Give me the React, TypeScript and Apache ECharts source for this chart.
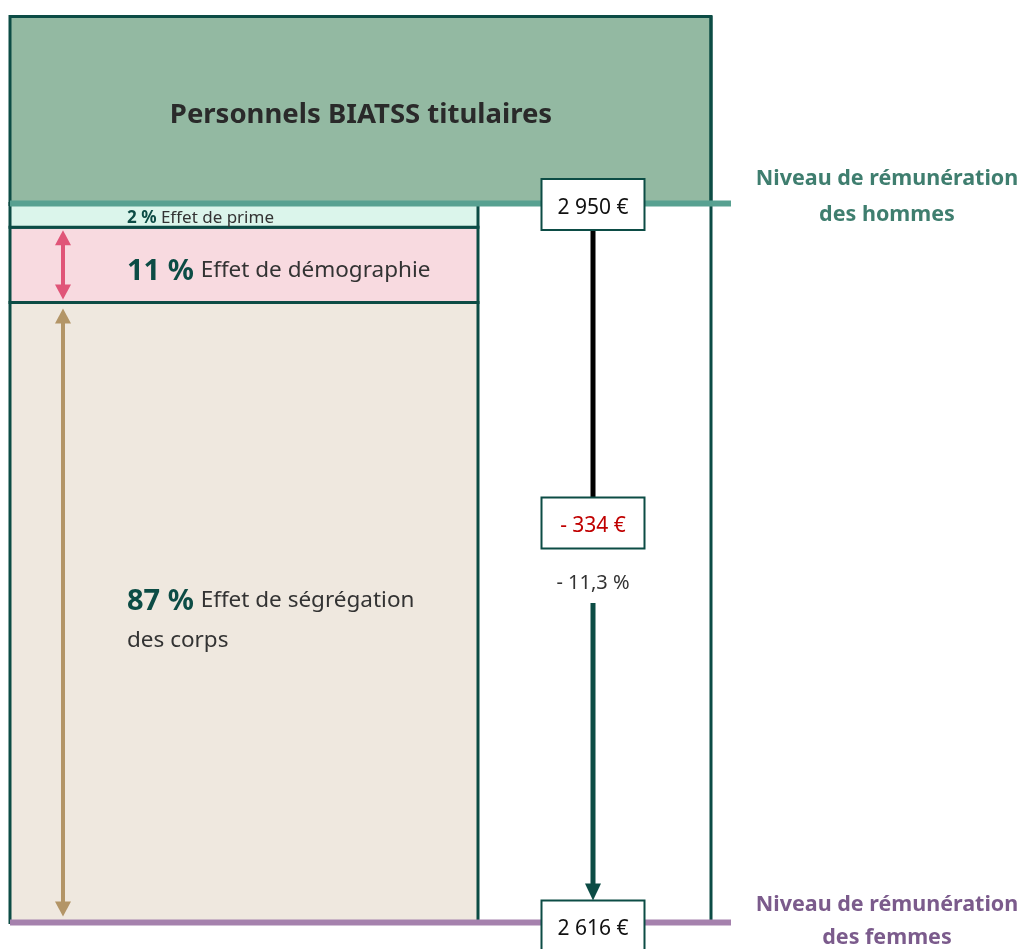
import { useEffect, useRef } from "react";
import * as echarts from "echarts";

// ---- data ----
const chartTitle = "Personnels BIATSS titulaires";
const menLevel = 2950; // €
const womenLevel = 2616; // €
const gapLabel = "- 334 €";
const gapPctLabel = "- 11,3 %";
const effectNames = ["Effet de ségrégation\ndes corps", "Effet de démographie", "Effet de prime"];
const effectShares = ["87 %", "11 %", "2 %"];
// height of each band in € as drawn (bottom → top)
const effectEuros = [288, 35, 11];
const menLabel = ["Niveau de rémunération", "des hommes"];
const womenLabel = ["Niveau de rémunération", "des femmes"];

const fmtEuro = (n: number) => String(n).replace(/\B(?=(\d{3})+(?!\d))/g, " ") + " €";

// ---- styles ----
const DARK = "#0c4c45";
const bandFill = ["#efe8df", "#f8dae0", "#dbf5eb"];
const arrowColor = ["#b39567", "#e05578", null];
const FONT = "Noto Sans";

export default function App() {
  const ref = useRef<HTMLDivElement>(null);
  useEffect(() => {
    if (!ref.current) return;
    const chart = echarts.init(ref.current, undefined, { renderer: "svg" });

    // cumulative bands
    const bands: number[][] = [];
    let acc = womenLevel;
    effectEuros.forEach((v, i) => {
      bands.push([acc, acc + v, i]);
      acc += v;
    });

    const COL_W = 468; // left column width
    const FRAME_W = 701;
    const LINE_W = 721;
    const BOX_CX = 583; // relative to grid left
    const BOX_W = 103;
    const BOX_H = 51;

    const dblArrow = (x: number, y1: number, y2: number, color: string) => {
      const hw = 8,
        hh = 15;
      return [
        { type: "line", shape: { x1: x, y1: y1 + hh - 1, x2: x, y2: y2 - hh + 1 }, style: { stroke: color, lineWidth: 4 } },
        { type: "polygon", shape: { points: [[x, y1], [x - hw, y1 + hh], [x + hw, y1 + hh]] }, style: { fill: color } },
        { type: "polygon", shape: { points: [[x, y2], [x - hw, y2 - hh], [x + hw, y2 - hh]] }, style: { fill: color } },
      ];
    };

    const valueBox = (cx: number, cy: number, text: string, color: string) => ({
      type: "group",
      children: [
        {
          type: "rect",
          shape: { x: cx - BOX_W / 2, y: cy - BOX_H / 2, width: BOX_W, height: BOX_H },
          style: { fill: "#ffffff", stroke: DARK, lineWidth: 2 },
        },
        {
          type: "text",
          style: { x: cx, y: cy + 1, text, fill: color, font: `21px "${FONT}"`, align: "center", verticalAlign: "middle" },
        },
      ],
    });

    chart.setOption({
      animation: false,
      grid: { left: 10, right: 1020 - 10 - LINE_W, top: 203.5, bottom: 26.5 },
      xAxis: { type: "value", min: 0, max: 1, show: false },
      yAxis: { type: "value", min: womenLevel, max: menLevel, show: false },
      graphic: [
        {
          type: "rect",
          shape: { x: 10, y: 16.5, width: FRAME_W, height: 188 },
          style: { fill: "#93b9a2", stroke: DARK, lineWidth: 3 },
        },
        {
          type: "text",
          style: {
            x: 361,
            y: 112,
            text: chartTitle,
            fill: "#2a2a2a",
            font: `bold 27.5px "${FONT}"`,
            align: "center",
            verticalAlign: "middle",
          },
        },
        ...menLabel.map((t, i) => ({
          type: "text",
          style: {
            x: 887,
            y: 176 + i * 36,
            text: t,
            fill: "#3f7e6f",
            font: `bold 21.5px "${FONT}"`,
            align: "center",
            verticalAlign: "middle",
          },
        })),
        ...womenLabel.map((t, i) => ({
          type: "text",
          style: {
            x: 887,
            y: 902 + i * 33,
            text: t,
            fill: "#7b5b8c",
            font: `bold 21.5px "${FONT}"`,
            align: "center",
            verticalAlign: "middle",
          },
        })),
      ],
      series: [
        {
          type: "custom",
          data: bands,
          renderItem: (params: any, api: any) => {
            const cs = params.coordSys;
            const lo = api.coord([0, api.value(0)]);
            const hi = api.coord([0, api.value(1)]);
            const i = api.value(2);
            const yTop = hi[1];
            const yBot = lo[1];
            const h = yBot - yTop;
            const cy = (yTop + yBot) / 2;
            const children: any[] = [
              {
                type: "rect",
                shape: { x: cs.x, y: yTop, width: COL_W, height: h },
                style: { fill: bandFill[i], stroke: DARK, lineWidth: 3 },
              },
            ];
            const small = i === 2;
            children.push({
              type: "text",
              style: {
                x: cs.x + 117,
                y: small ? cy + 1.5 : i === 0 ? cy + 6 : cy + 4,
                text: `{p|${effectShares[i]}}{s| }{n|${effectNames[i].split("\n").join("}\n{n|")}}`,
                verticalAlign: "middle",
                align: "left",
                rich: {
                  p: {
                    font: small ? `bold 17px "${FONT}"` : `bold 29px "${FONT}"`,
                    fill: DARK,
                    lineHeight: small ? 20 : 40,
                  },
                  s: {
                    font: small ? `17px "${FONT}"` : `26px "${FONT}"`,
                    lineHeight: small ? 20 : 40,
                  },
                  n: {
                    font: small ? `17px "${FONT}"` : `22.5px "${FONT}"`,
                    fill: "#333333",
                    lineHeight: small ? 20 : 40,
                  },
                },
              },
            });
            if (arrowColor[i]) {
              const inset = i === 0 ? 6 : 3;
              children.push(...dblArrow(cs.x + 53, yTop + inset, yBot - inset, arrowColor[i] as string));
            }
            return { type: "group", children };
          },
          z: 2,
        },
        {
          type: "custom",
          data: [[menLevel, womenLevel]],
          renderItem: (params: any, api: any) => {
            const cs = params.coordSys;
            const yM = api.coord([0, api.value(0)])[1];
            const yW = api.coord([0, api.value(1)])[1];
            const cx = cs.x + BOX_CX;
            const mid = (yM + yW) / 2;
            const gapCy = mid - 40;
            return {
              type: "group",
              children: [
                // right border of frame
                {
                  type: "line",
                  shape: { x1: cs.x + FRAME_W, y1: 16, x2: cs.x + FRAME_W, y2: yW },
                  style: { stroke: DARK, lineWidth: 3 },
                },
                // level lines
                {
                  type: "line",
                  shape: { x1: cs.x, y1: yM, x2: cs.x + LINE_W, y2: yM },
                  style: { stroke: "#58a191", lineWidth: 6 },
                },
                {
                  type: "line",
                  shape: { x1: cs.x, y1: yW, x2: cs.x + LINE_W, y2: yW },
                  style: { stroke: "#a581ad", lineWidth: 6 },
                },
                // black connector
                {
                  type: "line",
                  shape: { x1: cx, y1: yM + BOX_H / 2, x2: cx, y2: gapCy - BOX_H / 2 },
                  style: { stroke: "#000000", lineWidth: 5 },
                },
                // dark green arrow
                {
                  type: "line",
                  shape: { x1: cx, y1: mid + 40, x2: cx, y2: yW - 38 },
                  style: { stroke: DARK, lineWidth: 5 },
                },
                {
                  type: "polygon",
                  shape: { points: [[cx, yW - 22], [cx - 8, yW - 39], [cx + 8, yW - 39]] },
                  style: { fill: DARK },
                },
                valueBox(cx, yM + 1, fmtEuro(menLevel), "#111111"),
                valueBox(cx, gapCy, gapLabel, "#c00000"),
                {
                  type: "text",
                  style: {
                    x: cx,
                    y: mid + 18,
                    text: gapPctLabel,
                    fill: "#333333",
                    font: `20px "${FONT}"`,
                    align: "center",
                    verticalAlign: "middle",
                  },
                },
                valueBox(cx, yW + 3.5, fmtEuro(womenLevel), "#111111"),
              ],
            };
          },
          z: 3,
        },
      ],
    });
    return () => chart.dispose();
  }, []);
  return <div ref={ref} style={{ position: "fixed", left: 0, top: 0, width: 1020, height: 949 }} />;
}
